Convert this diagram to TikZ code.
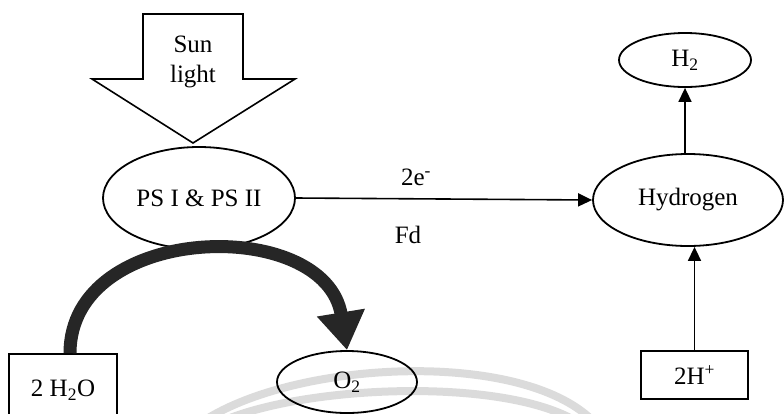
\documentclass[tikz,border=0pt]{standalone}
\usepackage{fontspec}
\setmainfont{Liberation Serif}
\usetikzlibrary{shapes.geometric,arrows.meta}
\begin{document}
\begin{tikzpicture}[x=1pt,y=-1pt,
  oval/.style={draw,ellipse,line width=1.8pt,inner sep=0pt},
  boxnode/.style={draw,rectangle,line width=1.6pt,inner sep=0pt},
  lbl/.style={font=\fontsize{25}{30}\selectfont},
  conn/.style={line width=1.6pt,-{Triangle[length=14pt,width=13pt]}},
  wm/.style={line width=8pt,color=black!14}]
\useasboundingbox (0,0) rectangle (784,413);
\begin{scope}
\clip (0,0) rectangle (784,413);
% watermark arcs
\draw[wm] (205,420) .. controls (300,360) and (520,350) .. (592,420);
\draw[wm] (225,420) .. controls (310,385) and (500,378) .. (574,420);
% sun light arrow
\draw[line width=1.6pt,line join=miter] (143,14) -- (243,14) -- (243,79) -- (295,79) -- (193,143) -- (92,79) -- (143,79) -- cycle;
\node[lbl,align=center] (sun) at (193,62) {Sun\\light};
% nodes
\node[oval,lbl,minimum width=192pt,minimum height=102pt] (ps) at (199,198) {PS I \& PS II};
\node[oval,lbl,minimum width=190pt,minimum height=92pt] (hyd) at (688,200) {Hydrogen};
\node[oval,lbl,minimum width=132pt,minimum height=54pt] (h2) at (685,60) {H\textsubscript{2}};
\node[oval,lbl,minimum width=140pt,minimum height=62pt] (o2) at (347,382) {O\textsubscript{2}};
\node[boxnode,lbl,minimum width=107pt,minimum height=48pt] (hp) at (694.5,375) {2H\textsuperscript{+}};
\node[boxnode,lbl,minimum width=108pt,minimum height=72pt] (h2o) at (63,390) {2 H\textsubscript{2}O};
% labels
\node[lbl] (e2) at (416,177) {2e\textsuperscript{-}};
\node[lbl] (fd) at (408,235) {Fd};
% connectors
\draw[conn] (ps.east) -- (hyd.west);
\draw[conn] (hyd.north -| h2.south) -- (h2.south);
\draw[conn] (hp.north) -- (hp.north |- hyd.south);
\draw[line width=13pt,color=black!85,-{Triangle[length=38pt,width=46pt]}] ([xshift=7pt]h2o.north) .. controls (70,222) and (325,215) .. (o2.north);
\end{scope}
\end{tikzpicture}
\end{document}
